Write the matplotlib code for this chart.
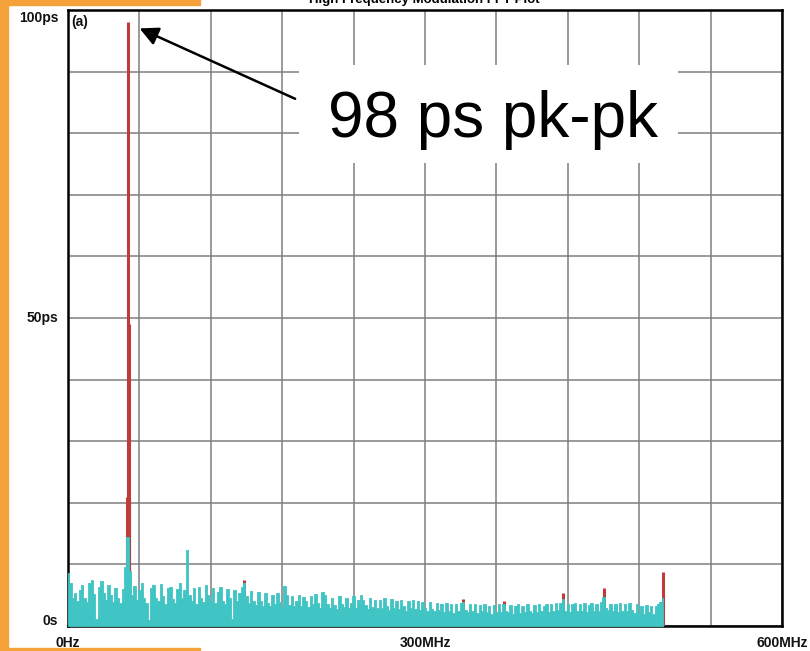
"""High-frequency modulation FFT: jitter spectrum, 0-600 MHz."""

import matplotlib.pyplot as plt
import numpy as np
from matplotlib.patches import Rectangle

# ------------------------------------------------------------
# DATA
# ------------------------------------------------------------
# noise floor (ps), one value every 2 MHz from 0 to 500 MHz
FREQ_STEP_MHZ = 2.0
floor_ps = [
    8.6, 7.0, 4.6, 5.4, 4.1, 5.8, 6.6, 4.5, 3.9, 6.9, 7.4, 5.2, 1.2, 6.4, 7.3, 5.4, 4.2, 6.6, 5.1, 3.9, 6.2, 4.6, 3.8, 6.0, 9.5,
    14.5, 9.0, 5.0, 6.5, 4.2, 5.9, 7.0, 4.6, 3.8, 1.0, 6.1, 6.6, 4.5, 4.0, 6.8, 4.9, 3.6, 6.2, 6.4, 4.4, 3.8, 6.0, 6.9, 4.6, 5.8,
    12.3, 5.1, 4.1, 6.1, 3.6, 6.3, 4.6, 3.9, 6.7, 5.0, 3.9, 6.2, 3.7, 5.5, 6.4, 4.1, 3.5, 6.0, 4.5, 1.1, 5.9, 4.0, 5.3, 6.3, 7.0,
    4.8, 3.8, 5.7, 4.0, 3.4, 5.5, 4.0, 3.3, 5.3, 3.8, 3.2, 5.1, 3.6, 5.4, 3.9, 3.1, 6.5, 5.0, 3.4, 4.9, 3.2, 4.1, 5.1, 3.3, 4.7,
    4.0, 3.1, 4.9, 3.5, 5.2, 3.7, 3.0, 5.5, 5.0, 3.5, 2.9, 4.6, 3.4, 2.8, 4.9, 3.5, 3.1, 4.5, 2.9, 3.8, 4.8, 3.0, 4.2, 5.0, 4.3,
    3.4, 2.8, 4.5, 3.1, 4.3, 2.9, 4.2, 3.0, 4.6, 3.3, 2.6, 4.4, 3.0, 4.1, 2.8, 4.3, 3.2, 2.5, 4.1, 2.9, 4.2, 2.8, 4.0, 2.6, 3.9,
    3.0, 2.5, 3.9, 2.7, 2.4, 3.8, 2.6, 3.6, 2.2, 3.7, 2.5, 3.5, 2.1, 3.6, 2.4, 3.8, 3.9, 2.6, 2.3, 3.5, 2.4, 3.6, 2.1, 3.4, 2.4,
    3.5, 2.3, 3.3, 2.0, 3.4, 2.3, 3.5, 2.2, 3.6, 2.5, 2.2, 3.4, 2.0, 3.2, 3.5, 2.1, 3.3, 2.3, 3.6, 2.4, 2.1, 3.4, 2.2, 3.5, 2.4,
    3.3, 3.6, 2.3, 3.5, 2.4, 3.7, 2.6, 3.8, 4.4, 2.5, 3.6, 2.2, 3.5, 3.8, 2.4, 3.6, 2.5, 3.7, 2.2, 3.4, 3.8, 2.4, 3.5, 2.5, 3.9,
    4.7, 3.0, 2.6, 3.6, 2.4, 3.5, 2.2, 3.7, 2.5, 3.6, 2.4, 3.8, 2.6, 2.1, 3.5, 2.3, 3.3, 2.0, 3.4, 2.2, 3.2, 1.9, 3.3, 3.6, 3.9,
    4.5,
]
freq_mhz = np.arange(len(floor_ps)) * FREQ_STEP_MHZ

# discrete spurs (MHz, ps) rising above the floor
spur_mhz = [49.2, 50.0, 50.9, 51.3, 147.6, 332.0, 366.0, 416.0, 450.0, 500.0]
spur_ps = [21.0, 98.0, 49.0, 21.0, 7.4, 4.4, 4.1, 5.3, 6.2, 8.8]

PEAK_LABEL = "98 ps pk-pk"

CYAN = "#40c4c4"
RED = "#bf3b37"
ORANGE = "#f6a23a"

# ------------------------------------------------------------
# FIGURE
# ------------------------------------------------------------
W, H = 810, 651
fig = plt.figure(figsize=(W / 100, H / 100), dpi=100)
fig.patch.set_facecolor("white")

# orange slide edges
for x0, y0, w, h in [(0, 0, 8, H), (0, H - 5, 200, 5), (0, 0, 200, 3)]:
    fig.patches.append(Rectangle((x0 / W, y0 / H), w / W, h / H,
                                 transform=fig.transFigure, color=ORANGE, zorder=0))

ax = fig.add_axes([68 / W, 25 / H, 714 / W, 616 / H])
ax.set_xlim(0, 600)
ax.set_ylim(0, 100)

ax.set_xticks(np.arange(0, 601, 60))
ax.set_yticks(np.arange(0, 101, 10))
ax.tick_params(length=0, labelbottom=False, labelleft=False)
ax.grid(True, color="#7f7f7f", lw=1.1)
ax.set_axisbelow(True)
for s in ax.spines.values():
    s.set_linewidth(1.8)
    s.set_color("black")

# spurs sit behind the floor, only their tops show
ax.vlines(spur_mhz, 0, spur_ps, colors=RED, lw=2.2, zorder=3)
ax.fill_between(freq_mhz, 0, floor_ps, step="mid", color=CYAN, lw=0.6,
                edgecolor=CYAN, zorder=4)

# axis labels
lab = dict(fontsize=10, fontweight="bold", family="Liberation Sans", color="#111111")
ax.text(-8, 98.7, "100ps", ha="right", va="center", **lab)
ax.text(-8, 50.0, "50ps", ha="right", va="center", **lab)
ax.text(-8, 0.8, "0s", ha="right", va="center", **lab)
ax.text(0, -2.7, "0Hz", ha="center", va="center", **lab)
ax.text(300, -2.7, "300MHz", ha="center", va="center", **lab)
ax.text(600, -2.7, "600MHz", ha="center", va="center", **lab)
ax.text(3, 98.0, "(a)", ha="left", va="center", **lab)

fig.text(424 / W, 1 - 3 / H, "High Frequency Modulation FFT Plot", ha="center",
         va="baseline", fontsize=9.5, fontweight="bold", family="Liberation Sans")

# callout box + arrow to the main spur
ax.add_patch(Rectangle((194, 75.2), 319, 15.9, facecolor="white", edgecolor="none", zorder=5))
ax.text(357, 79.4, PEAK_LABEL, ha="center", va="baseline", fontsize=46,
        family="Liberation Sans", zorder=6)
ax.annotate("", xy=(58, 97.2), xytext=(193, 85.4),
            arrowprops=dict(arrowstyle="-|>", mutation_scale=28, lw=1.8, color="black"),
            zorder=7)

fig.savefig("out.png", dpi=100)
